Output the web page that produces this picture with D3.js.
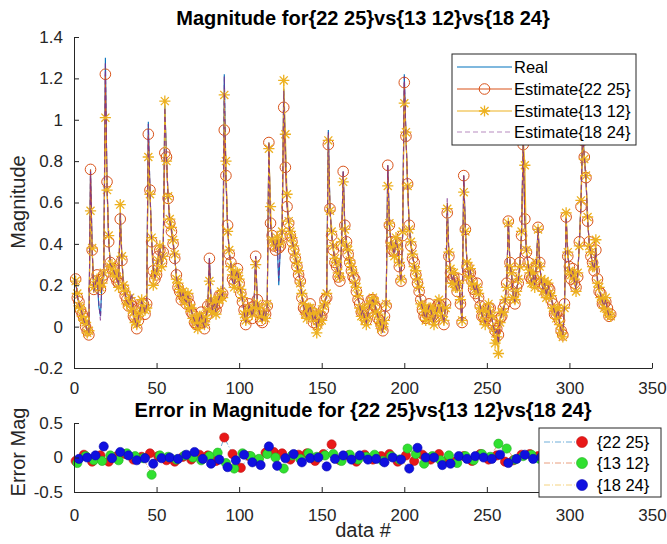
<!DOCTYPE html>
<html><head><meta charset="utf-8">
<script src="https://cdn.jsdelivr.net/npm/d3@7/dist/d3.min.js"></script>
<style>body{margin:0;background:#fff}svg{display:block;font-family:"Liberation Sans",Arial,sans-serif}</style>
</head><body><svg id="c" width="667" height="544"></svg>
<script>
// ---------- data ----------
const xTicks=[0,50,100,150,200,250,300,350];
const yTicksTop=[-0.2,0,0.2,0.4,0.6,0.8,1,1.2,1.4];
const yTickLabelsTop=["-0.2","0","0.2","0.4","0.6","0.8","1","1.2","1.4"];
const yTicksBot=[-0.5,0,0.5];
const yTickLabelsBot=["-0.5","0","0.5"];
const topLegend=["Real","Estimate{22 25}","Estimate{13 12}","Estimate{18 24}"];
const botLegend=["{22 25}","{13 12}","{18 24}"];

const real=[
.23,.15,.11,.09,.06,.03,.01,-.02,-.03,.76,
.37,.17,.21,.24,.10,.05,.22,.24,1.30,.68,
.42,.30,.29,.27,.25,.23,.20,.55,.33,.19,
.16,.12,.11,.13,.09,.06,.03,.00,.04,.08,
.12,.10,.07,.10,.99,.66,.42,.28,.24,.26,
.33,.38,.30,.35,1.07,.82,.62,.51,.47,.41,
.34,.24,.20,.17,.14,.16,.13,.12,.15,.10,
.08,.05,.03,.01,.00,.04,.06,.02,.00,.05,
.09,.33,.12,.08,.11,.07,.12,.14,.16,.15,
1.22,.72,.49,.36,.30,.22,.20,.25,.27,.22,
.17,.13,.07,.02,.06,.10,.08,.05,.10,.34,
.12,.08,.04,.03,.07,.05,.10,.89,.50,.43,
.40,.38,.42,.20,.40,.45,1.15,.88,.60,.50,
.45,.42,.38,.34,.30,.26,.22,.15,.10,.07,
.05,.08,.10,.06,.03,.05,.00,.02,.06,.04,
.09,.12,.15,.95,.57,.45,.38,.32,.30,.25,
.23,.40,.75,.48,.40,.36,.31,.28,.25,.22,
.18,.14,.10,.06,.08,.04,.02,.06,.10,.12,
.13,.11,.08,.05,.03,.00,-.01,.04,.10,.78,
.49,.40,.38,.35,.42,.38,.30,.22,.45,1.22,
.93,.69,.48,.40,.34,.30,.26,.22,.18,.12,
.09,.06,.04,.07,.10,.08,.05,.02,.06,.09,
.12,.10,.06,.02,.10,.58,.35,.27,.22,.25,
.20,.18,.22,.12,.02,.73,.47,.30,.25,.27,
.22,.19,.17,.20,.15,.10,.06,.04,.02,.06,
.10,.08,.04,.00,-.03,-.02,-.08,.03,.06,.08,
.12,.20,.51,.30,.25,.15,.12,.18,.22,.30,
.45,.90,.52,.36,.30,.25,.22,.25,.20,.30,
.48,.30,.22,.18,.21,.15,.20,.17,.14,.10,
.07,.05,.08,.02,-.02,-.04,.10,.53,.35,.28,
.24,.27,.22,.18,.25,.40,.60,.95,.82,.72,
.52,.40,.35,.30,.28,.38,.22,.18,.15,.12,
.10,.13,.08,.05,.06];

const est1=[
.23,.14,.12,.08,.06,.04,.00,-.02,-.04,.76,
.37,.18,.22,.25,.20,.18,.23,.25,1.22,.70,
.41,.31,.28,.28,.24,.22,.21,.52,.32,.18,
.15,.13,.10,.12,.10,.05,.04,-.01,.03,.09,
.11,.11,.06,.11,.93,.66,.41,.27,.23,.25,
.34,.37,.31,.36,.84,.82,.62,.50,.46,.40,
.33,.25,.19,.17,.13,.15,.14,.11,.14,.11,
.07,.06,.02,.01,.01,.03,.07,.02,-.01,.05,
.10,.33,.11,.09,.10,.08,.11,.15,.15,.16,
.95,.73,.49,.35,.31,.23,.21,.24,.28,.21,
.16,.12,.08,.01,.05,.11,.09,.04,.10,.34,
.13,.07,.03,.02,.08,.06,.10,.89,.50,.44,
.39,.37,.41,.38,.39,.44,1.06,.77,.58,.50,
.44,.41,.37,.33,.29,.25,.22,.14,.09,.08,
.06,.07,.11,.07,.02,.05,.01,.03,.05,.05,
.08,.13,.14,.88,.57,.44,.37,.31,.29,.24,
.22,.39,.75,.49,.41,.35,.31,.27,.24,.23,
.17,.13,.11,.07,.07,.05,.03,.07,.09,.13,
.13,.10,.09,.04,.03,.01,-.02,.05,.10,.78,
.49,.41,.37,.36,.41,.37,.29,.22,.44,1.18,
.92,.69,.49,.39,.33,.31,.25,.21,.17,.13,
.08,.05,.04,.06,.11,.07,.05,.03,.05,.10,
.11,.10,.07,.01,.11,.55,.34,.26,.23,.24,
.21,.17,.23,.11,.02,.73,.47,.29,.26,.26,
.22,.18,.16,.21,.14,.10,.05,.05,.03,.05,
.09,.09,.03,.01,-.02,-.01,-.04,.04,.05,.09,
.11,.21,.51,.31,.24,.16,.11,.19,.21,.31,
.44,.88,.52,.36,.31,.24,.23,.24,.21,.29,
.48,.31,.21,.19,.20,.16,.19,.18,.13,.11,
.06,.06,.07,.03,-.02,-.04,.11,.53,.34,.29,
.23,.28,.21,.19,.24,.41,.58,.90,.82,.72,
.51,.41,.34,.31,.27,.37,.23,.17,.16,.11,
.11,.12,.09,.05,.06];

const est2=[
.22,.16,.10,.09,.05,.03,.02,-.03,-.02,.56,
.38,.19,.20,.23,.21,.19,.21,.26,1.01,.66,
.44,.29,.30,.26,.26,.24,.19,.59,.34,.20,
.17,.11,.12,.14,.08,.07,.02,.01,.05,.07,
.13,.09,.08,.09,.82,.64,.43,.20,.25,.27,
.32,.39,.29,.34,1.09,.80,.63,.52,.48,.42,
.35,.23,.21,.18,.15,.17,.12,.13,.16,.09,
.09,.04,.04,.02,-.01,.05,.05,.03,.01,.04,
.08,.22,.13,.07,.12,.06,.13,.13,.17,.14,
1.12,.80,.46,.37,.29,.25,.19,.26,.26,.23,
.18,.14,.06,.03,.07,.09,.07,.06,.09,.30,
.11,.09,.05,.04,.06,.04,.11,.86,.58,.42,
.41,.39,.43,.40,.41,.46,1.19,.93,.64,.51,
.46,.43,.39,.35,.31,.27,.21,.16,.11,.06,
.04,.09,.09,.05,.04,.06,-.03,.01,.07,.03,
.10,.11,.16,.90,.56,.46,.39,.33,.31,.26,
.24,.41,.70,.47,.39,.37,.32,.29,.26,.21,
.19,.15,.09,.05,.09,.03,.01,.05,.11,.11,
.14,.12,.07,.06,.02,-.01,.00,.03,.11,.68,
.50,.39,.39,.34,.43,.39,.31,.23,.46,1.08,
.94,.68,.47,.41,.35,.29,.27,.23,.19,.11,
.10,.07,.03,.08,.09,.09,.04,.01,.07,.08,
.13,.09,.05,.03,.09,.57,.36,.28,.21,.26,
.19,.19,.21,.13,.03,.65,.46,.31,.24,.28,
.21,.20,.18,.19,.16,.09,.07,.03,.01,.07,
.11,.07,.05,-.01,-.08,-.05,-.13,.02,.07,.07,
.13,.19,.50,.29,.26,.14,.13,.17,.23,.29,
.46,.92,.78,.37,.29,.26,.21,.26,.19,.31,
.47,.29,.23,.17,.22,.14,.21,.16,.15,.09,
.08,.04,.09,.01,-.03,-.05,.09,.55,.36,.27,
.25,.26,.23,.17,.26,.39,.61,.97,.81,.73,
.53,.39,.36,.29,.29,.42,.21,.19,.14,.13,
.09,.14,.07,.06,.05];

const est3=[
.23,.15,.11,.09,.06,.03,.01,-.02,-.03,.75,
.37,.17,.21,.24,.12,.03,.22,.24,1.28,.68,
.42,.30,.29,.27,.25,.23,.20,.55,.33,.19,
.16,.12,.11,.13,.16,.06,.03,.00,.04,.08,
.12,.10,.07,.10,.98,.66,.42,.28,.24,.26,
.33,.38,.30,.35,1.06,.82,.62,.51,.47,.41,
.34,.24,.20,.17,.14,.16,.13,.12,.15,.10,
.08,.05,.03,.01,.00,.04,.06,.02,.00,.05,
.09,.33,.12,.08,.11,.07,.12,.14,.16,.15,
1.21,.72,.49,.36,.30,.22,.20,.25,.27,.22,
.17,.13,.07,.02,.06,.10,.08,.05,.10,.34,
.12,.08,.04,.03,.07,.05,.10,.89,.50,.43,
.40,.38,.42,.22,.40,.45,1.14,.85,.60,.50,
.45,.42,.38,.34,.30,.26,.22,.15,.10,.07,
.05,.08,.10,.06,.03,.05,.00,.02,.06,.04,
.09,.12,.15,.94,.57,.45,.38,.32,.30,.25,
.23,.40,.75,.48,.40,.36,.31,.28,.25,.22,
.18,.14,.10,.06,.08,.04,.02,.06,.10,.12,
.13,.11,.08,.05,.03,.00,-.03,.04,.10,.78,
.49,.40,.38,.35,.42,.38,.30,.22,.45,1.21,
.93,.69,.48,.40,.34,.30,.26,.22,.18,.12,
.09,.06,.04,.07,.10,.08,.05,.02,.06,.09,
.12,.10,.06,.02,.10,.62,.35,.27,.22,.25,
.20,.18,.22,.12,.02,.73,.47,.30,.25,.27,
.22,.19,.17,.20,.15,.10,.06,.04,.02,.06,
.10,.08,.04,.00,-.03,-.02,-.08,.03,.06,.08,
.12,.20,.51,.30,.25,.15,.12,.18,.22,.30,
.45,.90,.52,.36,.30,.25,.22,.25,.20,.30,
.48,.30,.22,.18,.21,.15,.20,.17,.14,.10,
.07,.05,.08,.02,-.02,-.04,.10,.53,.35,.28,
.24,.27,.22,.18,.25,.40,.60,.95,.82,.72,
.52,.40,.35,.30,.28,.38,.22,.18,.15,.12,
.10,.13,.08,.05,.06];

// error samples (every 5th data point)
const err1=[-.05,.04,-.06,.03,-.06,.02,.05,-.03,.01,.06,.02,-.04,-.06,.01,-.03,.04,.03,-.05,.29,.05,
-.15,.02,-.04,.07,.08,.06,-.03,.04,.06,-.05,.05,.19,-.04,.03,-.06,.04,-.03,.02,.05,-.06,
.03,-.05,.04,-.03,.05,-.04,-.06,.02,-.05,.05,-.03,.03,-.06,-.04,.04,.05,.02,-.03,.01,.03,
-.02,.02,-.01,.03,-.02];
const err2=[-.08,.02,-.04,-.05,.03,-.04,.06,.02,-.01,-.25,.03,.01,-.03,.03,.00,-.04,.02,.07,-.08,-.16,
.06,.02,-.02,.05,.00,-.16,.03,-.02,.06,.01,.03,.05,-.05,.04,-.03,.01,.04,-.05,.02,-.03,
.13,.05,-.09,.02,-.04,.03,-.08,.02,-.04,.05,.01,.20,.13,-.03,.02,.04,-.02,.03,-.01,.02,
-.03,.01,.02,-.02,.01];
const err3=[-.02,.00,.03,.16,-.01,.08,.03,-.04,-.01,-.09,-.01,.00,-.02,.04,.08,-.02,-.09,-.03,-.14,-.04,
.04,-.07,-.11,.16,-.12,-.01,.05,-.07,-.01,.00,-.13,-.02,.03,-.03,.03,-.03,-.02,-.07,.00,-.03,
-.16,.14,.00,.00,-.11,-.09,.02,-.02,.02,.00,-.02,.04,-.08,-.02,.04,-.02,.01,-.03,.02,-.01,
.03,-.02,.00,.01,-.01];
const errStart=[1,2,3], errStep=5;

// ---------- drawing ----------
const svg=d3.select("#c");
const AX="#262626";
const FONT='"Liberation Sans",Arial,sans-serif';
const TICKF=17, LABF=20, TITF=20, LEGF=16.5;
const x=d3.scaleLinear().domain([0,350]).range([74,652]);
const yT=d3.scaleLinear().domain([-0.2,1.4]).range([368,37]);
const yB=d3.scaleLinear().domain([-0.5,0.5]).range([492,423]);

function styleAxis(g){
  g.select(".domain").attr("stroke",AX).attr("stroke-width",1);
  g.selectAll(".tick line").attr("stroke",AX).attr("stroke-width",1);
  g.selectAll(".tick text").attr("fill",AX).attr("font-size",TICKF).attr("font-family",FONT);
}
function drawAxes(y,yTicks,yLabels,yBase,xPad){
  const gx=svg.append("g").attr("transform",`translate(0,${yBase})`)
    .call(d3.axisBottom(x).tickValues(xTicks).tickSizeInner(-5).tickSizeOuter(0).tickPadding(xPad).tickFormat(d3.format("d")));
  styleAxis(gx);
  const gy=svg.append("g").attr("transform",`translate(74,0)`)
    .call(d3.axisLeft(y).tickValues(yTicks).tickSizeInner(-5).tickSizeOuter(0).tickPadding(11).tickFormat((d,i)=>yLabels[i]));
  styleAxis(gy);
}

// top plot
const gTop=svg.append("g");
const lineT=(arr)=>d3.line().x((d,i)=>x(i+1)).y(d=>yT(d))(arr);
const C={real:"#0072BD",e1:"#D95319",e2:"#EDB120",e3:"#7E2F8E"};

gTop.append("path").attr("d",lineT(real)).attr("fill","none").attr("stroke",C.real).attr("stroke-width",1.1);
gTop.append("path").attr("d",lineT(est1)).attr("fill","none").attr("stroke",C.e1).attr("stroke-width",1.1);
gTop.append("g").selectAll("circle").data(est1).join("circle")
  .attr("cx",(d,i)=>x(i+1)).attr("cy",d=>yT(d)).attr("r",5.3)
  .attr("fill","none").attr("stroke",C.e1).attr("stroke-width",1);
gTop.append("path").attr("d",lineT(est2)).attr("fill","none").attr("stroke",C.e2).attr("stroke-width",1.1);
const star=(s)=>`M${-s},0L${s},0M0,${-s}L0,${s}M${-s*.72},${-s*.72}L${s*.72},${s*.72}M${-s*.72},${s*.72}L${s*.72},${-s*.72}`;
gTop.append("g").selectAll("path").data(est2).join("path")
  .attr("transform",(d,i)=>`translate(${x(i+1)},${yT(d)})`).attr("d",star(5.6))
  .attr("fill","none").attr("stroke",C.e2).attr("stroke-width",1.3);
gTop.append("path").attr("d",lineT(est3)).attr("fill","none").attr("stroke",C.e3).attr("stroke-width",1.1).attr("stroke-dasharray","5,3").attr("opacity",0.85);

drawAxes(yT,yTicksTop,yTickLabelsTop,368,14);

// titles / labels
svg.append("text").attr("x",363).attr("y",25).attr("text-anchor","middle")
  .attr("font-size",TITF).attr("font-weight","bold").attr("fill","#000")
  .text("Magnitude for{22 25}vs{13 12}vs{18 24}");
svg.append("text").attr("transform","translate(25,202) rotate(-90)").attr("text-anchor","middle")
  .attr("font-size",LABF).attr("fill",AX).text("Magnitude");

// top legend
const lg=svg.append("g");
lg.append("rect").attr("x",452).attr("y",54).attr("width",184).attr("height",91).attr("fill","#fff").attr("stroke",AX).attr("stroke-width",1);
const rows=[67,89,111,132];
const lcol=[C.real,C.e1,C.e2,C.e3];
topLegend.forEach((t,i)=>{
  const yy=rows[i];
  const ln=lg.append("line").attr("x1",457).attr("x2",512).attr("y1",yy).attr("y2",yy).attr("stroke",lcol[i]).attr("stroke-width",1.1);
  if(i===3) ln.attr("stroke-dasharray","5,3").attr("opacity",0.55);
  if(i===1) lg.append("circle").attr("cx",484.5).attr("cy",yy).attr("r",5.3).attr("fill","none").attr("stroke",C.e1).attr("stroke-width",1);
  if(i===2) lg.append("path").attr("transform",`translate(484.5,${yy})`).attr("d",star(5.6)).attr("stroke",C.e2).attr("stroke-width",1.3).attr("fill","none");
  lg.append("text").attr("x",514).attr("y",yy+6).attr("font-size",LEGF).attr("fill","#000").text(t);
});

// bottom plot
const gB=svg.append("g");
const ecol=["#0072BD","#D95319","#EDB120"];
const mfill=["#e81818","#30e030","#1010e0"];
const mstroke=["#c01010","#20b020","#0808b0"];
[err1,err2,err3].forEach((arr,s)=>{
  const xs=arr.map((d,i)=>errStart[s]+errStep*i);
  gB.append("path").attr("d",d3.line().x((d,i)=>x(xs[i])).y(d=>yB(d))(arr))
    .attr("fill","none").attr("stroke",ecol[s]).attr("stroke-width",0.8).attr("stroke-dasharray","6,2,1,2").attr("opacity",0.7);
});
[err1,err2,err3].forEach((arr,s)=>{
  const xs=arr.map((d,i)=>errStart[s]+errStep*i);
  gB.append("g").selectAll("circle").data(arr).join("circle")
    .attr("cx",(d,i)=>x(xs[i])).attr("cy",d=>yB(d)).attr("r",4.6)
    .attr("fill",mfill[s]).attr("stroke",mstroke[s]).attr("stroke-width",0.6);
});
drawAxes(yB,yTicksBot,yTickLabelsBot,492,16.5);

svg.append("text").attr("x",363).attr("y",417).attr("text-anchor","middle")
  .attr("font-size",TITF).attr("font-weight","bold").attr("fill","#000")
  .text("Error in Magnitude for {22 25}vs{13 12}vs{18 24}");
svg.append("text").attr("transform","translate(25,452) rotate(-90)").attr("text-anchor","middle")
  .attr("font-size",LABF).attr("fill",AX).text("Error Mag");
svg.append("text").attr("x",363).attr("y",537).attr("text-anchor","middle")
  .attr("font-size",LABF).attr("fill",AX).text("data #");

// bottom legend
const bl=svg.append("g");
bl.append("rect").attr("x",539).attr("y",428).attr("width",122).attr("height",69).attr("fill","#fff").attr("stroke",AX).attr("stroke-width",1);
const brows=[442,463,485];
botLegend.forEach((t,i)=>{
  const yy=brows[i];
  bl.append("line").attr("x1",544).attr("x2",580).attr("y1",yy).attr("y2",yy).attr("stroke",ecol[i]).attr("stroke-width",0.8).attr("stroke-dasharray","6,2,1,2").attr("opacity",0.7);
  bl.append("circle").attr("cx",582).attr("cy",yy).attr("r",5.5).attr("fill",mfill[i]).attr("stroke",mstroke[i]).attr("stroke-width",0.6);
  bl.append("text").attr("x",597).attr("y",yy+6).attr("font-size",LEGF).attr("fill","#000").text(t);
});
</script></body></html>
